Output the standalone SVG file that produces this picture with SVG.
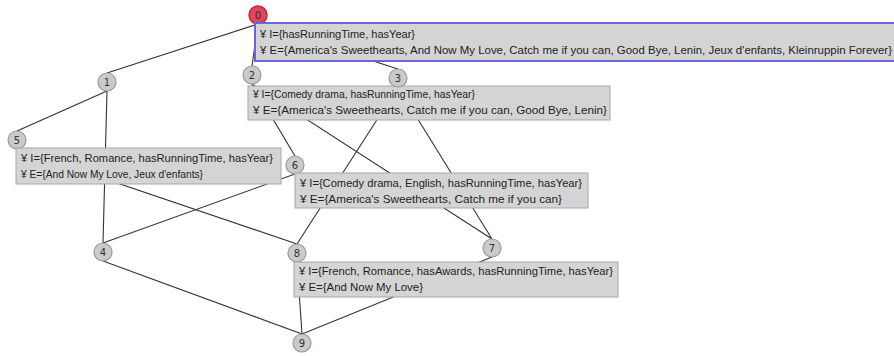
<svg xmlns="http://www.w3.org/2000/svg" width="894" height="356" viewBox="0 0 894 356">
<style>
.e{stroke:#333;stroke-width:1.1;fill:none}
.n{fill:#cacaca;stroke:#9a9a9a;stroke-width:1.2}
.n0{fill:#e0455a;stroke:#c4283c;stroke-width:1.5}
.nl{font-family:"DejaVu Sans",sans-serif;font-size:10px;fill:#333;text-anchor:middle}
.b{fill:#d4d4d4;stroke:#a8a8a8;stroke-width:1}
.bs{fill:#d4d4d4;stroke:#6a66d8;stroke-width:2}
.t{font-family:"Liberation Sans",Arial,sans-serif;font-size:10.5px;fill:#222}
</style>
<rect width="894" height="356" fill="#fff"/>
<g id="edges">
<line class="e" x1="258" y1="24" x2="107" y2="73"/>
<line class="e" x1="258" y1="24" x2="252" y2="66"/>
<line class="e" x1="258" y1="24" x2="398" y2="69"/>
<line class="e" x1="107" y1="91" x2="17" y2="131"/>
<line class="e" x1="107" y1="91" x2="103" y2="243"/>
<line class="e" x1="252" y1="84" x2="295" y2="156"/>
<line class="e" x1="252" y1="84" x2="492" y2="239"/>
<line class="e" x1="398" y1="87" x2="492" y2="239"/>
<line class="e" x1="398" y1="87" x2="297" y2="244"/>
<line class="e" x1="17" y1="149" x2="297" y2="244"/>
<line class="e" x1="295" y1="174" x2="103" y2="243"/>
<line class="e" x1="103" y1="261" x2="302" y2="334"/>
<line class="e" x1="297" y1="262" x2="302" y2="334"/>
<line class="e" x1="492" y1="257" x2="302" y2="334"/>
</g>
<g id="node0">
<circle class="n0" cx="258" cy="15" r="9"/>
<text class="nl" x="258" y="19">0</text>
<rect class="bs" x="255" y="23" width="645" height="38"/>
<text class="t" x="260" y="38" textLength="155" lengthAdjust="spacingAndGlyphs">¥ I={hasRunningTime, hasYear}</text>
<text class="t" x="260" y="54" textLength="632" lengthAdjust="spacingAndGlyphs">¥ E={America's Sweethearts, And Now My Love, Catch me if you can, Good Bye, Lenin, Jeux d'enfants, Kleinruppin Forever}</text>
</g>
<g id="node1">
<circle class="n" cx="107" cy="82" r="9"/>
<text class="nl" x="107" y="86">1</text>
</g>
<g id="node2">
<circle class="n" cx="252" cy="75" r="9"/>
<text class="nl" x="252" y="79">2</text>
<rect class="b" x="248" y="86" width="362" height="34"/>
<text class="t" x="253" y="98" textLength="222" lengthAdjust="spacingAndGlyphs">¥ I={Comedy drama, hasRunningTime, hasYear}</text>
<text class="t" x="253" y="114" textLength="354" lengthAdjust="spacingAndGlyphs">¥ E={America's Sweethearts, Catch me if you can, Good Bye, Lenin}</text>
</g>
<g id="node3">
<circle class="n" cx="398" cy="78" r="9"/>
<text class="nl" x="398" y="82">3</text>
</g>
<g id="node4">
<circle class="n" cx="103" cy="252" r="9"/>
<text class="nl" x="103" y="256">4</text>
</g>
<g id="node5">
<circle class="n" cx="17" cy="140" r="9"/>
<text class="nl" x="17" y="144">5</text>
<rect class="b" x="16" y="148" width="265" height="36"/>
<text class="t" x="21" y="162" textLength="252" lengthAdjust="spacingAndGlyphs">¥ I={French, Romance, hasRunningTime, hasYear}</text>
<text class="t" x="21" y="178" textLength="182" lengthAdjust="spacingAndGlyphs">¥ E={And Now My Love, Jeux d'enfants}</text>
</g>
<g id="node6">
<circle class="n" cx="295" cy="165" r="9"/>
<text class="nl" x="295" y="169">6</text>
<rect class="b" x="295" y="173" width="293" height="35"/>
<text class="t" x="300" y="187" textLength="282" lengthAdjust="spacingAndGlyphs">¥ I={Comedy drama, English, hasRunningTime, hasYear}</text>
<text class="t" x="300" y="203" textLength="262" lengthAdjust="spacingAndGlyphs">¥ E={America's Sweethearts, Catch me if you can}</text>
</g>
<g id="node7">
<circle class="n" cx="492" cy="248" r="9"/>
<text class="nl" x="492" y="252">7</text>
</g>
<g id="node8">
<circle class="n" cx="297" cy="253" r="9"/>
<text class="nl" x="297" y="257">8</text>
<rect class="b" x="294" y="262" width="324" height="35"/>
<text class="t" x="299" y="275" textLength="314" lengthAdjust="spacingAndGlyphs">¥ I={French, Romance, hasAwards, hasRunningTime, hasYear}</text>
<text class="t" x="299" y="291" textLength="124" lengthAdjust="spacingAndGlyphs">¥ E={And Now My Love}</text>
</g>
<g id="node9">
<circle class="n" cx="302" cy="343" r="9"/>
<text class="nl" x="302" y="347">9</text>
</g>
</svg>
